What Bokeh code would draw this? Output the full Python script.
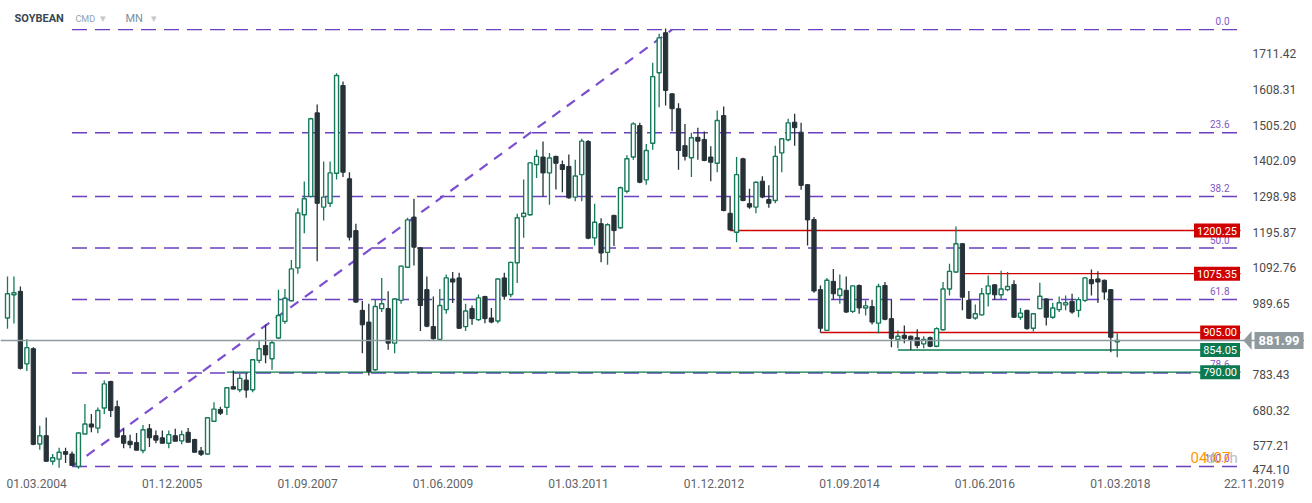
from bokeh.plotting import figure
from bokeh.models import (ColumnDataSource, Range1d, FixedTicker, PrintfTickFormatter,
                          Label, Span, PolyAnnotation)
from bokeh.embed import file_html
from bokeh.resources import INLINE

# ---------------- data (monthly candles) ----------------
OPEN = [947, 1014, 1024, 814, 858, 582, 606, 532, 538, 560,
        553, 517, 611, 640, 628, 686, 763, 690, 606, 590,
        586, 563, 626, 606, 600, 584, 606, 591, 616, 595,
        562, 553, 648, 682, 688, 748, 739, 767, 739, 824,
        867, 829, 889, 937, 997, 1092, 1246, 1299, 1541, 1268,
        1279, 1366, 1620, 1350, 1200, 969, 935, 797, 974, 974,
        874, 998, 1094, 1239, 1150, 1029, 922, 885, 971, 1060,
        1063, 922, 974, 942, 1009, 947, 938, 1063, 1015, 1107,
        1241, 1246, 1391, 1413, 1367, 1415, 1391, 1386, 1297, 1362,
        1458, 1179, 1220, 1137, 1244, 1208, 1314, 1413, 1504, 1347,
        1453, 1657, 1773, 1596, 1553, 1446, 1411, 1470, 1464, 1413,
        1395, 1533, 1250, 1195, 1408, 1278, 1268, 1343, 1290, 1287,
        1425, 1463, 1514, 1485, 1333, 1232, 1029, 911, 1053, 1012,
        1027, 966, 1041, 976, 980, 932, 1041, 945, 885, 897,
        894, 890, 872, 890, 865, 913, 1031, 1080, 1162, 998,
        947, 956, 1017, 1043, 1014, 1029, 1044, 949, 969, 917,
        974, 1002, 949, 971, 985, 995, 969, 998, 1058, 1060,
        1056, 1029, 878]
HIGH = [1067, 1067, 1038, 885, 862, 635, 659, 553, 571, 571,
        560, 616, 698, 669, 688, 766, 765, 708, 629, 609,
        614, 637, 640, 621, 621, 621, 626, 621, 628, 597,
        573, 660, 703, 690, 747, 795, 785, 787, 828, 882,
        928, 882, 1029, 1031, 1115, 1265, 1342, 1527, 1565, 1400,
        1400, 1656, 1632, 1369, 1220, 996, 988, 1000, 1063, 1024,
        1004, 1099, 1237, 1292, 1152, 1067, 1009, 1031, 1073, 1080,
        1078, 988, 983, 1015, 1011, 976, 1062, 1078, 1110, 1249,
        1348, 1398, 1434, 1458, 1425, 1417, 1403, 1420, 1405, 1466,
        1462, 1278, 1236, 1221, 1246, 1328, 1418, 1514, 1512, 1451,
        1686, 1770, 1785, 1598, 1569, 1509, 1483, 1498, 1487, 1444,
        1548, 1559, 1297, 1413, 1411, 1321, 1342, 1357, 1331, 1446,
        1468, 1524, 1538, 1512, 1335, 1239, 1041, 1063, 1089, 1073,
        1067, 1041, 1044, 998, 1000, 1046, 1051, 1000, 911, 925,
        896, 914, 894, 893, 920, 1051, 1104, 1212, 1164, 1025,
        986, 1034, 1070, 1045, 1084, 1080, 1056, 976, 971, 961,
        1049, 1004, 991, 1009, 1012, 1017, 1007, 1065, 1087, 1082,
        1058, 1031, 903]
LOW = [916, 931, 798, 793, 578, 565, 530, 522, 513, 527,
       518, 510, 611, 616, 613, 669, 660, 600, 570, 570,
       564, 555, 573, 584, 584, 570, 590, 581, 587, 558,
       547, 551, 646, 666, 666, 740, 732, 716, 732, 816,
       816, 797, 886, 930, 995, 1075, 1192, 1296, 1111, 1229,
       1268, 1348, 1355, 1171, 990, 845, 780, 794, 964, 855,
       845, 988, 1092, 1099, 909, 920, 884, 882, 959, 990,
       915, 909, 927, 938, 932, 932, 932, 1000, 1007, 1048,
       1179, 1243, 1352, 1299, 1275, 1319, 1311, 1292, 1285, 1285,
       1175, 1157, 1108, 1101, 1155, 1205, 1308, 1405, 1337, 1333,
       1434, 1557, 1562, 1488, 1376, 1403, 1355, 1405, 1401, 1343,
       1369, 1256, 1200.25, 1166, 1285, 1263, 1250, 1294, 1266, 1279,
       1369, 1459, 1446, 1318, 1157, 1020, 905, 910, 1000, 988,
       961, 961, 959, 954, 928, 903, 940, 862, 859, 874,
       854.05, 859, 859, 862, 862, 911, 1012, 1078, 969, 944,
       942, 954, 980, 1000, 1000, 1024, 947, 942, 913, 908,
       972, 925, 945, 964, 969, 959, 949, 993, 1012, 990,
       1000, 848, 833]
CLOSE = [1017, 1020, 801, 861, 581, 606, 532, 542, 558, 552,
         520, 614, 640, 631, 679, 756, 679, 602, 584, 580,
         564, 623, 600, 593, 584, 609, 590, 609, 587, 558,
         552, 658, 683, 671, 745, 741, 772, 738, 826, 858,
         840, 875, 954, 1004, 1089, 1251, 1292, 1524, 1279, 1297,
         1367, 1649, 1369, 1181, 993, 927, 792, 980, 988, 874,
         1002, 1097, 1231, 1152, 983, 923, 887, 983, 1063, 1051,
         917, 967, 945, 1005, 945, 935, 1060, 1010, 1108, 1237,
         1250, 1396, 1415, 1367, 1410, 1395, 1377, 1295, 1358, 1459,
         1178, 1224, 1135, 1217, 1200, 1324, 1408, 1509, 1340, 1432,
         1646, 1758, 1606, 1553, 1432, 1415, 1469, 1459, 1403, 1398,
         1519, 1258, 1202, 1362, 1287, 1268, 1340, 1297, 1279, 1415,
         1466, 1512, 1498, 1331, 1231, 1025, 917, 1056, 1017, 1031,
         964, 1040, 976, 982, 935, 1038, 943, 888, 894, 888,
         884, 867, 885, 865, 916, 1031, 1082, 1162, 1007, 946,
         959, 1017, 1040, 1014, 1031, 1038, 949, 961, 916, 959,
         1010, 949, 976, 991, 991, 964, 1000, 1063, 1046, 1051,
         1022, 891, 881.99]

DATE_TICKS = [4.5, 25.5, 46.5, 67.5, 88.5, 109.5, 130.5, 151.5, 172.5]
DATE_LABELS = ["01.03.2004", "01.12.2005", "01.09.2007", "01.06.2009", "01.03.2011",
               "01.12.2012", "01.09.2014", "01.06.2016", "01.03.2018"]
LAST_DATE = "22.11.2019"
LAST_DATE_POS = 172.5 + 20.7          # 22.11.2019 on the same monthly scale

PRICE_TICKS = [577.21, 680.32, 783.43, 989.65, 1092.76, 1195.87,
               1298.98, 1402.09, 1505.20, 1608.31, 1711.42]
BOTTOM_PRICE = 474.10
LAST_PRICE = 881.99

LEVEL_PRICES = [1200.25, 1075.35, 905.00, 854.05, 790.00]
LEVEL_FROM = [112, 148, 126, 138, 34]
LEVEL_SIDE = ["sell", "sell", "sell", "buy", "buy"]

FIB_HIGH = 1782.0
FIB_LOW = 517.0
FIB_PCTS = [0.0, 23.6, 38.2, 50.0, 61.8, 78.6, 100.0]
FIB_FROM = 10
FIB_TO = 103

TITLE = "SOYBEAN"
GROUP = "CMD"
INTERVAL = "MN"

# ---------------- styling / layout ----------------
BULL = "#15795a"
BEAR = "#263238"
RED = "#d10000"
GREEN = "#0b7a50"
PURPLE = "#6a3fc0"
FIB_TXT = "#7e57c2"
GRAY_LINE = "#8f9a9e"

W, H = 1304, 497
FRAME_H = 474
BB = H - FRAME_H                     # bottom border for the date axis
PPU = 0.3453                         # pixels per price unit


def X(refx):                         # horizontal position (px) -> candle index
    return (refx - 7) / 6.452


def Y(refy):                         # vertical position (px) -> price
    return 1200.25 - (refy - 230) / PPU


XR = (X(0), X(W))
YR = (Y(FRAME_H), Y(0))

p = figure(width=W, height=H, x_range=Range1d(*XR), y_range=Range1d(*YR),
           output_backend="svg", toolbar_location=None, y_axis_location="right",
           min_border_left=0, min_border_top=0, min_border_right=0, min_border_bottom=BB)
p.outline_line_color = None
p.xgrid.visible = False
p.ygrid.visible = False
p.background_fill_color = "white"
p.border_fill_color = "white"

# price axis (drawn just right of the chart area); lowest label is held inside the chart
y_bottom_tick = Y(468.5)
yax = p.yaxis[0]
yax.fixed_location = X(1246)
yax.ticker = FixedTicker(ticks=PRICE_TICKS + [y_bottom_tick])
yax.formatter = PrintfTickFormatter(format="%.2f")
yax.major_label_overrides = {y_bottom_tick: f"{BOTTOM_PRICE:.2f}"}
yax.axis_line_color = None
yax.major_tick_line_color = None
yax.minor_tick_line_color = None
yax.major_tick_out = 0
yax.major_tick_in = 0
yax.minor_tick_out = 0
yax.minor_tick_in = 0
yax.major_label_standoff = 6
yax.major_label_text_font = "Roboto"
yax.major_label_text_font_size = "12px"
yax.major_label_text_color = "#4a4a4a"

# date axis
xax = p.xaxis[0]
xax.ticker = FixedTicker(ticks=DATE_TICKS + [LAST_DATE_POS])
overrides = {t: l for t, l in zip(DATE_TICKS, DATE_LABELS)}
overrides[LAST_DATE_POS] = LAST_DATE
xax.major_label_overrides = overrides
xax.axis_line_color = None
xax.major_tick_line_color = None
xax.minor_tick_line_color = None
xax.major_tick_out = 0
xax.major_tick_in = 0
xax.minor_tick_out = 0
xax.minor_tick_in = 0
xax.major_label_standoff = 4
xax.major_label_text_font = "Roboto"
xax.major_label_text_font_size = "12px"
xax.major_label_text_color = "#5f6368"

LINE_END = X(1240)

# ---------------- fibonacci ----------------
fib_vals = [FIB_HIGH - pc / 100.0 * (FIB_HIGH - FIB_LOW) for pc in FIB_PCTS]
p.segment(x0=[FIB_FROM] * len(fib_vals), y0=fib_vals, x1=[LINE_END] * len(fib_vals), y1=fib_vals,
          line_color=PURPLE, line_width=1.4, line_dash="15 8")
p.line(x=[FIB_FROM, FIB_TO], y=[FIB_LOW, FIB_HIGH], line_color="#7b4fd0",
       line_width=2.2, line_dash="10 8")

# current price line
p.add_layout(Span(location=LAST_PRICE, dimension="width", line_color=GRAY_LINE, line_width=1.5))

# horizontal levels
lvl_colors = [RED if s == "sell" else GREEN for s in LEVEL_SIDE]
p.segment(x0=LEVEL_FROM, y0=LEVEL_PRICES, x1=[LINE_END] * len(LEVEL_PRICES), y1=LEVEL_PRICES,
          line_color=lvl_colors, line_width=1.4)

# ---------------- candles ----------------
idx = list(range(len(OPEN)))
bull = [i for i in idx if CLOSE[i] >= OPEN[i]]
bear = [i for i in idx if CLOSE[i] < OPEN[i]]


def src(ids):
    return ColumnDataSource(dict(
        x=ids,
        hi=[HIGH[i] for i in ids], lo=[LOW[i] for i in ids],
        top=[max(OPEN[i], CLOSE[i]) for i in ids],
        bot=[min(OPEN[i], CLOSE[i]) for i in ids]))


sb, sr = src(bull), src(bear)
p.segment(x0="x", y0="lo", x1="x", y1="hi", source=sb, line_color=BULL, line_width=1.3)
p.segment(x0="x", y0="lo", x1="x", y1="hi", source=sr, line_color=BEAR, line_width=1.3)
p.vbar(x="x", top="top", bottom="bot", width=0.62, source=sb,
       fill_color="white", line_color=BULL, line_width=1.4)
p.vbar(x="x", top="top", bottom="bot", width=0.66, source=sr,
       fill_color=BEAR, line_color=BEAR, line_width=1)

# ---------------- texts ----------------
for pc, v in zip(FIB_PCTS, fib_vals):
    p.add_layout(Label(x=X(1229), y=v + 8.5 / PPU, text=f"{pc:.1f}", text_align="right",
                       text_baseline="middle", text_font="Roboto", text_font_size="10px",
                       text_color=FIB_TXT))

# countdown to the candle close
for txt, rx, col in [("04", 1190, "#ff9800"), ("d", 1206, "#bdbdbd"),
                     ("07", 1213, "#ff9800"), ("h", 1229, "#bdbdbd")]:
    p.add_layout(Label(x=X(rx), y=Y(457), text=txt, text_align="left", text_baseline="middle",
                       text_font="Roboto", text_font_size="15px", text_color=col))

# level boxes
for v, c in zip(LEVEL_PRICES, lvl_colors):
    p.add_layout(Label(x=X(1239.5), y=v, text=f"{v:.2f}", text_align="right",
                       text_baseline="middle", text_font="Roboto", text_font_size="11px",
                       text_color="white", background_fill_color=c, padding=3))

# current price tag
p.add_layout(PolyAnnotation(xs=[X(1251), X(1243), X(1251)],
                            ys=[LAST_PRICE + 9 / PPU, LAST_PRICE, LAST_PRICE - 9 / PPU],
                            fill_color=GRAY_LINE, fill_alpha=1, line_color=GRAY_LINE))
p.add_layout(Label(x=X(1254), y=LAST_PRICE, text=f"{LAST_PRICE:.2f}", text_align="left",
                   text_baseline="middle", text_font="Roboto", text_font_size="13px",
                   text_font_style="bold", text_color="white",
                   background_fill_color=GRAY_LINE, padding=4))

# header
for txt, rx, size, col, style in [(TITLE, 14, "11px", "#37474f", "bold"),
                                  (GROUP, 75, "9px", "#90a4ae", "normal"),
                                  ("▾", 99, "11px", "#c5c9cc", "normal"),
                                  (INTERVAL, 125, "11px", "#78909c", "normal"),
                                  ("▾", 150, "11px", "#c5c9cc", "normal")]:
    p.add_layout(Label(x=X(rx), y=Y(18), text=txt, text_align="left", text_baseline="middle",
                       text_font="Roboto", text_font_size=size, text_color=col,
                       text_font_style=style))

open("out.html", "w").write(file_html(p, INLINE))
